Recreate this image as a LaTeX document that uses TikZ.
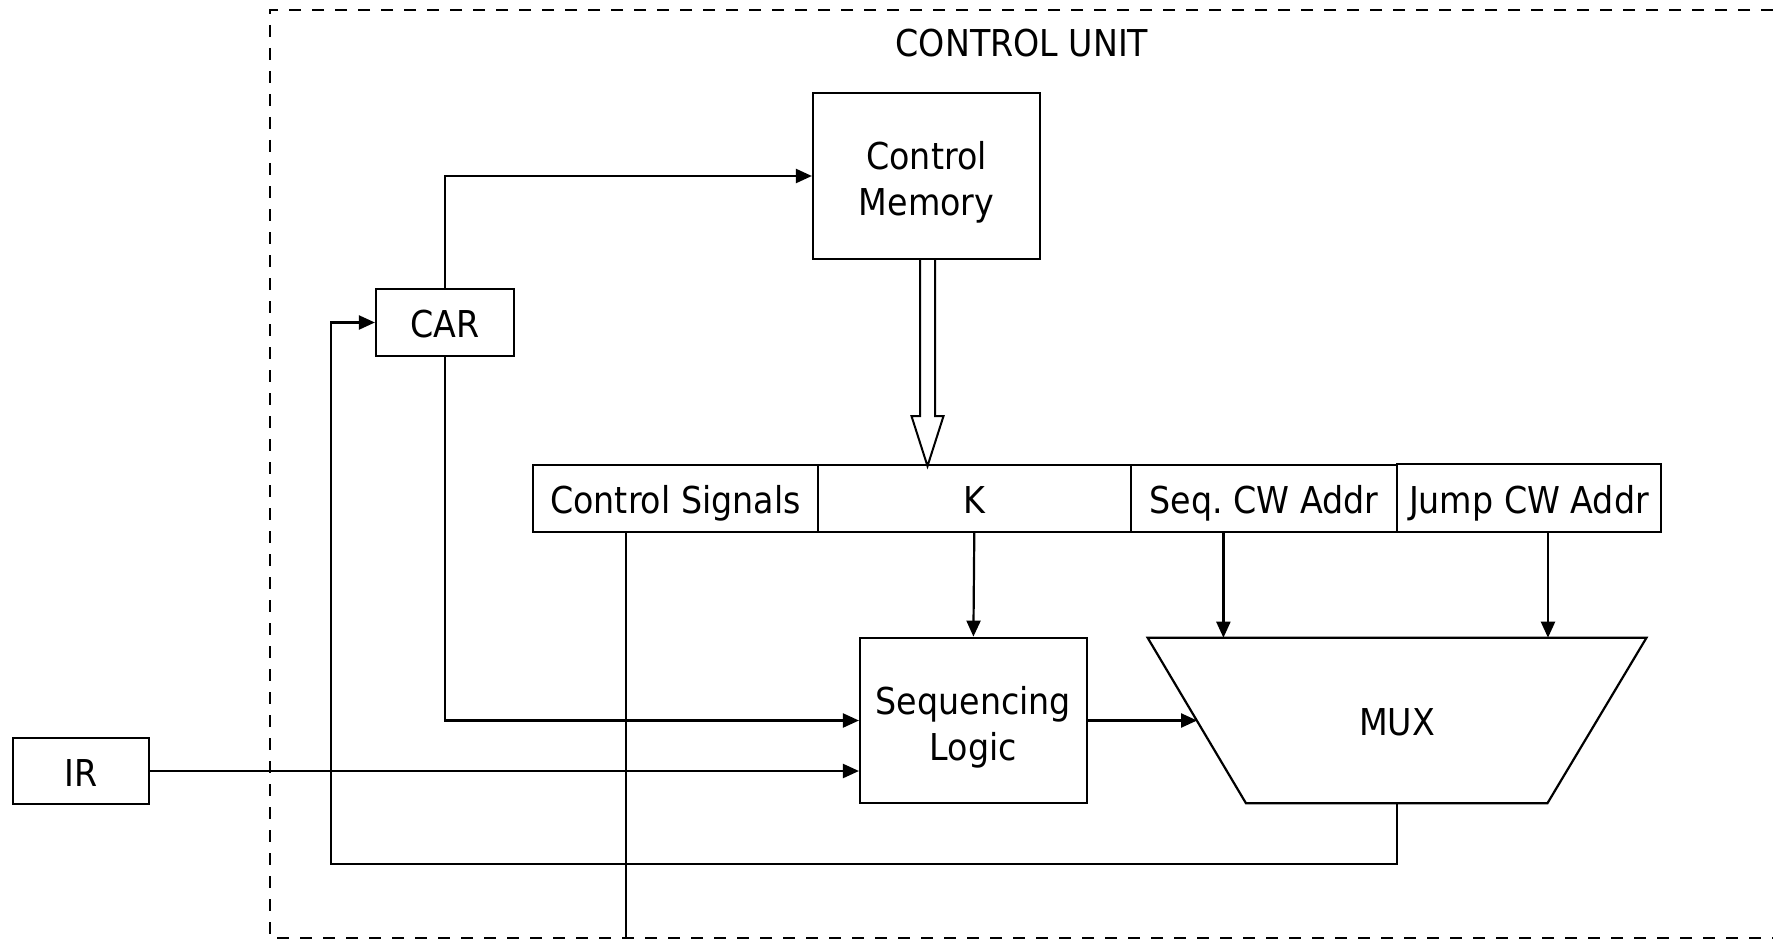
\documentclass[tikz,border=0pt]{standalone}
\usepackage{fontspec}
\IfFontExistsTF{DejaVu Sans Condensed}{\setmainfont{DejaVu Sans Condensed}}{\setmainfont{Liberation Sans}}
\usetikzlibrary{arrows.meta,calc}
\frenchspacing
\begin{document}
\begin{tikzpicture}[x=1pt,y=-1pt,
  lbl/.style={font=\fontsize{37}{46}\selectfont,align=center,inner sep=0pt},
  one/.style={lbl,anchor=base},
  box/.style={draw,line width=2.2pt,inner sep=0pt},
  wire/.style={line width=2.2pt},
  arr/.style={line width=2.2pt,-{Triangle[length=16pt,width=14pt]}},
  border/.style={line width=2.5pt,dash pattern=on 12pt off 11pt}]
\useasboundingbox (0,0) rectangle (1773,939);

% dashed control unit border
\draw[border] (1773,10) -- (270,10) -- (270,938) -- (1773,938);
\node[one] (title) at (1022,57) {CONTROL UNIT};

% blocks
\node[box,minimum width=136.5pt,minimum height=66pt] (ir) at (81,771) {};
\node[one] at ($(ir)+(0,15)$) {IR};
\node[box,minimum width=138pt,minimum height=67pt] (car) at (445,322.5) {};
\node[one] at ($(car)+(0,15)$) {CAR};
\node[box,minimum width=227pt,minimum height=166pt] (cm) at (926.5,176) {};
\node[lbl] at ($(cm)+(0,6)$) {Control\\Memory};
\node[box,minimum width=285pt,minimum height=66.7pt] (cs) at (675.5,498.3) {};
\node[one] at ($(cs)+(0,15.5)$) {Control Signals};
\node[box,minimum width=312.6pt,minimum height=66.7pt] (k) at (974.3,498.3) {};
\node[one] at ($(k)+(0,15.5)$) {K};
\node[box,minimum width=266.4pt,minimum height=66.7pt] (seq) at (1263.8,498.3) {};
\node[one] at ($(seq)+(0,15.5)$) {Seq. CW Addr};
\node[box,minimum width=264pt,minimum height=67.7pt] (jump) at (1529,497.8) {};
\node[one] at ($(jump)+(0,16)$) {Jump CW Addr};
\node[box,minimum width=226.7pt,minimum height=165.6pt] (sl) at (973.4,720.5) {};
\node[lbl] at ($(sl)+(0,6.5)$) {Sequencing\\Logic};

% MUX trapezoid
\coordinate (muxtl) at (1147.6,637.7);
\coordinate (muxtr) at (1646.5,637.7);
\coordinate (muxbr) at (1547.4,803.3);
\coordinate (muxbl) at (1246,803.3);
\draw[line width=2.2pt] (muxtl) -- (muxtr) -- (muxbr) -- (muxbl) -- cycle;
\node[one] (mux) at (1397,735) {MUX};
\coordinate (muxin1) at (1223.4,637.7);
\coordinate (muxin2) at (1548,637.7);
\coordinate (muxout) at (1397,803.3);
\coordinate (muxsel) at ($(muxtl)!0.503!(muxbl)$);

% hollow arrow Control Memory -> K
\draw[line width=2pt,fill=white]
  ($(cm.south)+(-6.5,0)$) -- ($(cm.south)+(-6.5,156)$) -- ($(cm.south)+(-15,156)$)
  -- ($(cm.south)+(1,206)$)
  -- ($(cm.south)+(17,156)$) -- ($(cm.south)+(8.5,156)$) -- ($(cm.south)+(8.5,0)$);

% connectors
\draw[arr] (car.north) |- (cm.west);
\draw[arr] (car.south) |- (sl.west);
\draw[arr] (ir.east) -- (ir.east -| sl.west);
\draw[arr] (k.south) -- (sl.north);
\draw[arr] (muxin1 |- seq.south) -- (muxin1);
\draw[arr] (muxin2 |- jump.south) -- (muxin2);
\draw[arr] (sl.east) -- (sl.east -| muxsel);
\coordinate (fb) at (331,864.3);
\draw[arr] (muxout) |- (fb) |- (car.west);
\coordinate (csout) at (625.7,939);
\draw[wire] (csout |- cs.south) -- (csout);
\end{tikzpicture}
\end{document}
